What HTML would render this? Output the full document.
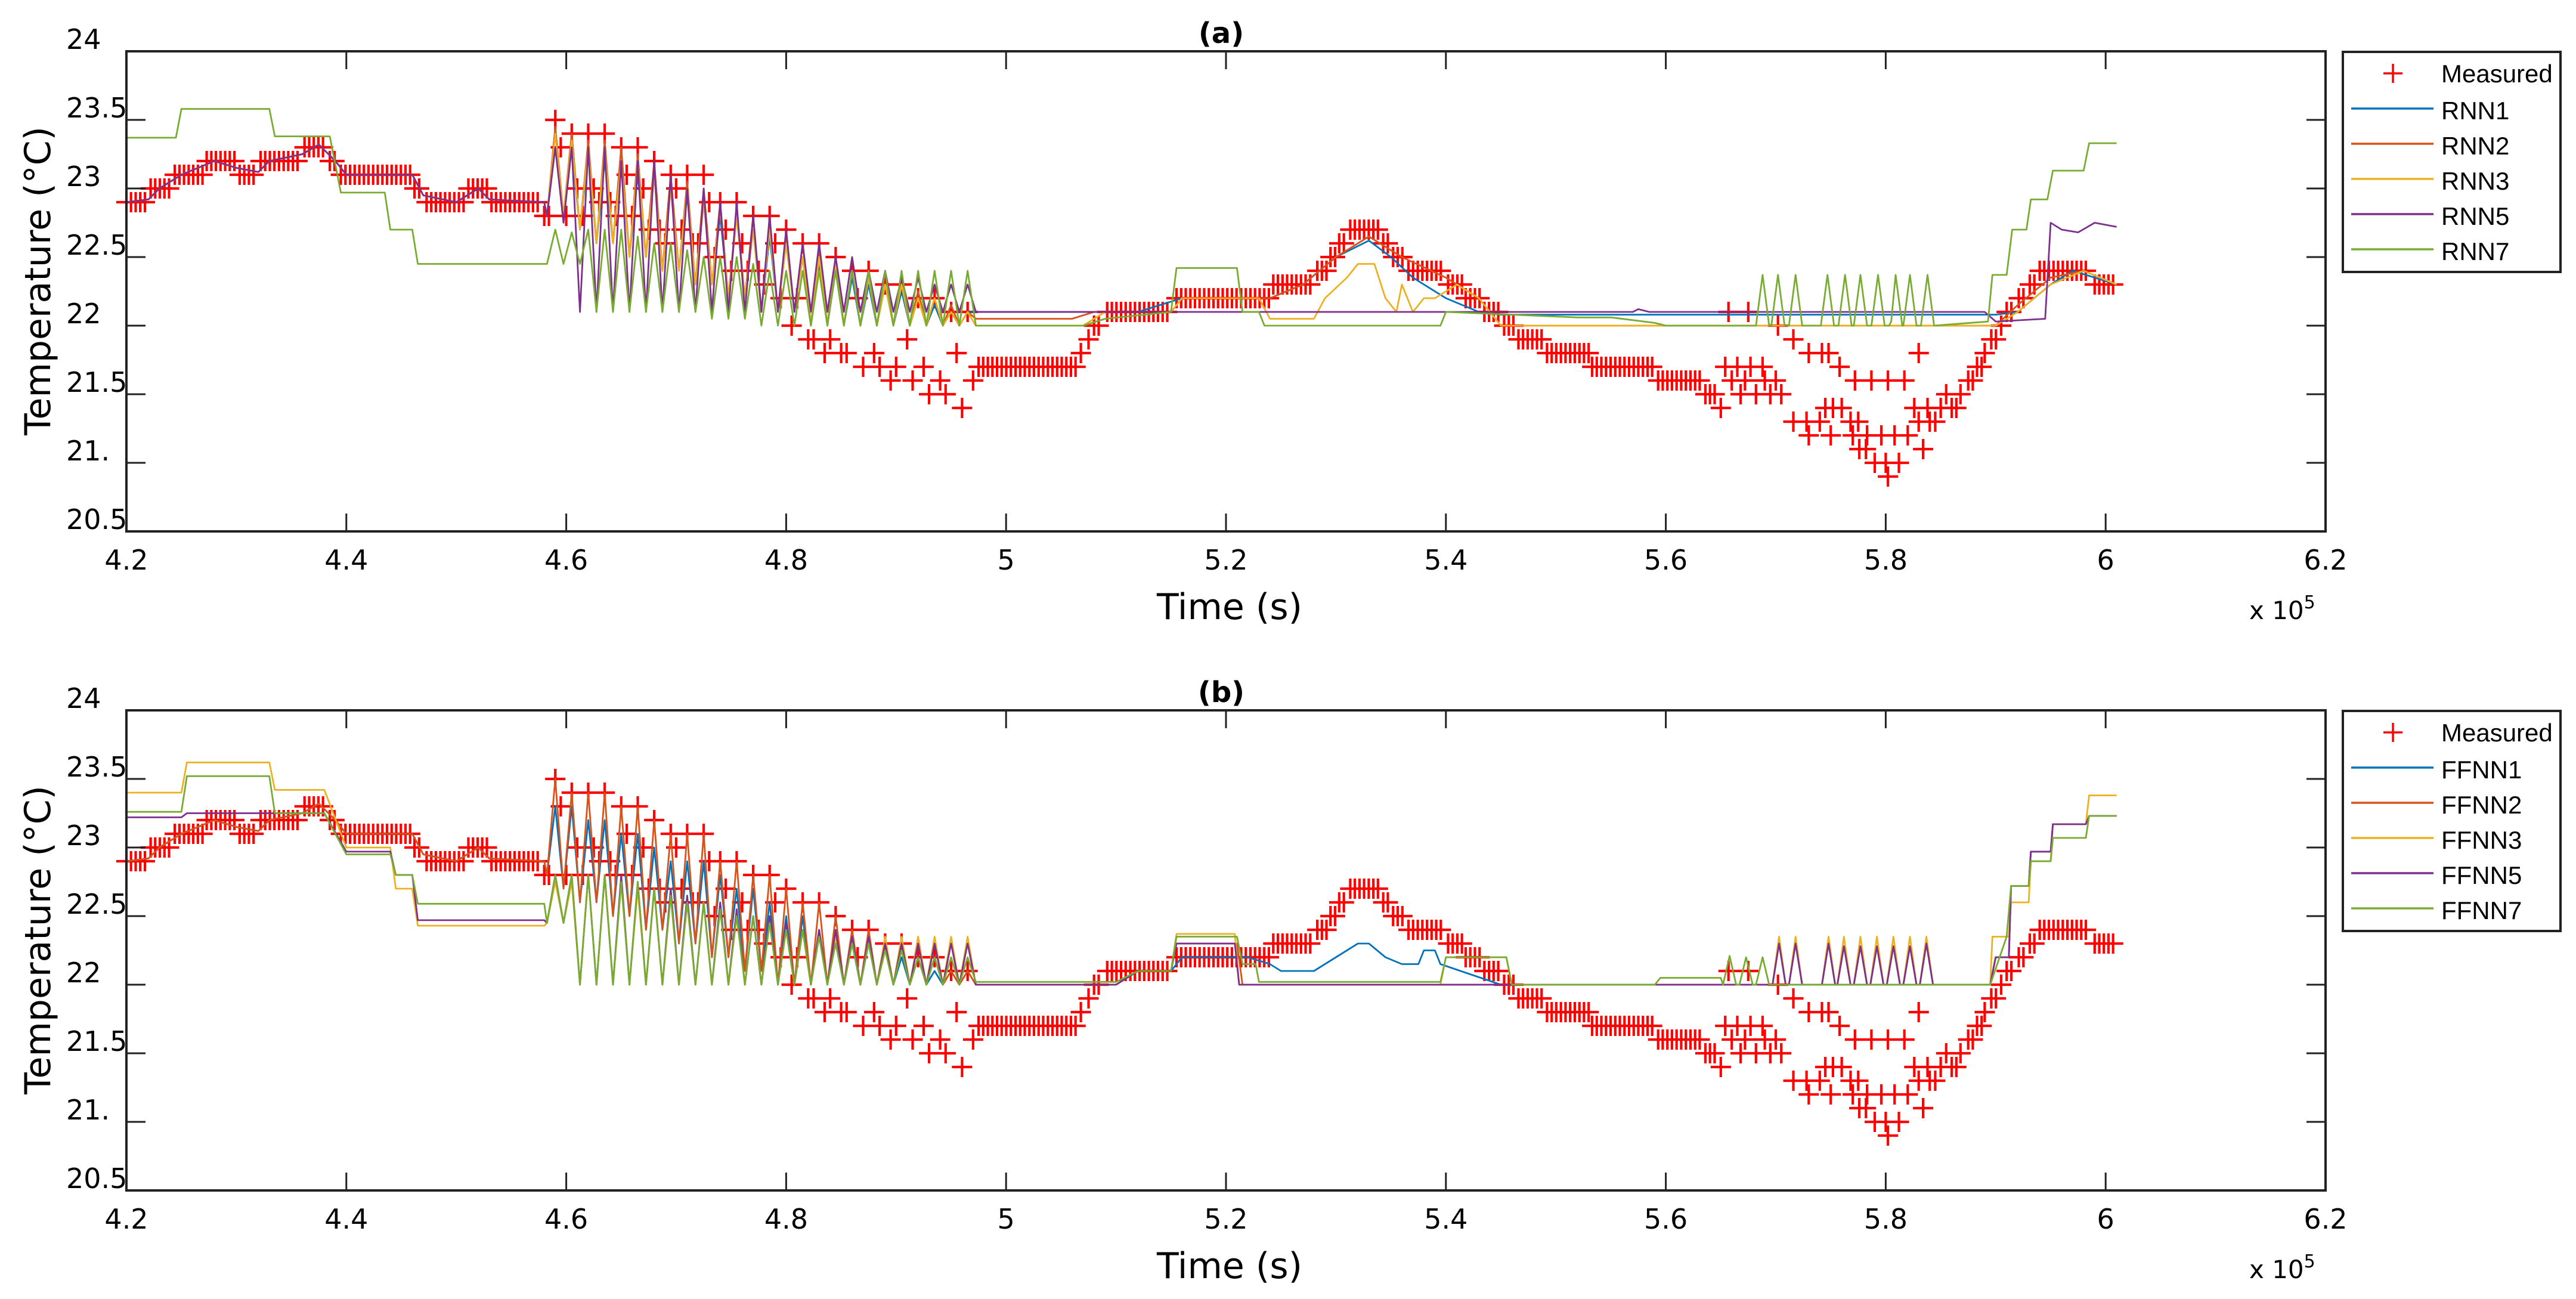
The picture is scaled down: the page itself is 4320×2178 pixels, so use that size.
<!DOCTYPE html>
<html><head><meta charset="utf-8"><style>
html,body{margin:0;padding:0;background:#fff;}
svg{display:block;}
text{font-family:"DejaVu Sans","Liberation Sans",sans-serif;fill:#000;}
.leg{font-family:"Liberation Sans",sans-serif;font-size:42px;}
</style></head><body>
<svg id="fig" width="4320" height="2178" viewBox="0 0 4320 2178" xmlns="http://www.w3.org/2000/svg"></svg>
<script>
// ---- data ----
const xTicks=[4.2,4.4,4.6,4.8,5,5.2,5.4,5.6,5.8,6,6.2];
const xTickLabels=["4.2","4.4","4.6","4.8","5","5.2","5.4","5.6","5.8","6","6.2"];
const yTicks=[24,23.5,23,22.5,22,21.5,21,20.5];
const yTickLabels=["24","23.5","23","22.5","22","21.5","21.","20.5"];
// measured: dense runs (start, end, value)
const runStart=[4.200,4.222,4.244,4.273,4.303,4.322,4.362,4.385,4.395,4.462,4.473,4.511,4.532,4.580,4.975,5.068,5.075,5.080,5.092,5.155,5.243,5.283,5.295,5.303,5.313,5.343,5.352,5.366,5.402,5.418,5.435,5.453,5.466,5.492,5.533,5.593,5.636,5.650,5.860,5.868,5.875,5.883,5.890,5.896,5.905,5.910,5.921,5.931,5.940,5.990];
const runEnd=[4.218,4.240,4.270,4.300,4.318,4.358,4.382,4.392,4.458,4.470,4.508,4.528,4.578,4.586,5.065,5.072,5.078,5.088,5.150,5.240,5.280,5.292,5.300,5.310,5.340,5.348,5.362,5.398,5.415,5.432,5.450,5.462,5.488,5.530,5.590,5.632,5.645,5.650,5.865,5.872,5.880,5.888,5.893,5.902,5.908,5.918,5.928,5.936,5.986,6.010];
const runValue=[22.9,23.0,23.1,23.2,23.1,23.2,23.3,23.2,23.1,23.0,22.9,23.0,22.9,22.8,21.7,21.8,21.9,22.0,22.1,22.2,22.3,22.4,22.5,22.6,22.7,22.6,22.5,22.4,22.3,22.2,22.1,22.0,21.9,21.8,21.7,21.6,21.5,21.4,21.4,21.5,21.6,21.7,21.8,21.9,22.0,22.1,22.2,22.3,22.4,22.3];
// measured: scattered points
const scatterT=[4.590,4.595,4.600,4.605,4.610,4.615,4.620,4.625,4.630,4.635,4.640,4.645,4.650,4.655,4.660,4.665,4.670,4.675,4.680,4.685,4.690,4.695,4.700,4.705,4.710,4.715,4.720,4.725,4.730,4.735,4.740,4.745,4.750,4.755,4.760,4.765,4.770,4.775,4.780,4.785,4.790,4.795,4.800,4.805,4.810,4.815,4.820,4.825,4.830,4.835,4.840,4.845,4.850,4.855,4.860,4.865,4.870,4.875,4.880,4.885,4.890,4.895,4.900,4.905,4.910,4.915,4.920,4.925,4.930,4.935,4.940,4.945,4.950,4.955,4.960,4.965,4.970,4.975,
5.654,5.665,5.677,5.688,5.660,5.672,5.690,5.700,5.668,5.682,5.695,5.705,5.745,5.752,5.760,5.716,5.728,5.740,5.768,5.775,5.730,5.750,5.770,5.783,5.796,5.808,5.820,5.776,5.782,5.834,5.790,5.800,5.812,5.802,5.657,5.675,5.702,5.716,5.730,5.742,5.748,5.758,5.772,5.787,5.802,5.817,5.830,5.830,5.840,5.845,5.826,5.838,5.850,5.855];
const scatterV=[23.5,23.3,22.8,23.4,23.0,22.8,23.4,23.0,22.9,23.4,22.9,22.8,23.3,23.1,22.8,23.3,23.0,22.7,23.2,22.7,22.6,23.1,23.0,22.7,23.1,22.6,22.6,23.1,22.9,22.5,22.9,22.7,22.4,22.9,22.6,22.4,22.8,22.4,22.3,22.8,22.6,22.2,22.7,22.0,22.2,22.6,21.9,21.9,22.6,21.8,21.9,22.5,21.8,21.8,22.4,22.2,21.7,22.4,21.8,21.7,22.3,21.6,21.7,22.3,21.9,21.6,22.2,21.7,21.5,22.2,21.6,21.5,22.1,21.8,21.4,22.1,21.6,21.7,
21.7,21.7,21.7,21.7,21.6,21.6,21.6,21.6,21.5,21.5,21.5,21.5,21.4,21.4,21.4,21.3,21.3,21.3,21.3,21.3,21.2,21.2,21.2,21.2,21.2,21.2,21.2,21.1,21.1,21.1,21.0,21.0,21.0,20.9,22.1,22.1,22.0,21.9,21.8,21.8,21.8,21.7,21.6,21.6,21.6,21.6,21.8,21.3,21.3,21.3,21.4,21.4,21.4,21.5];
// shared oscillation peak times
const oscPeakT=[4.590,4.605,4.620,4.635,4.650,4.665,4.680,4.695,4.710,4.725,4.740,4.755,4.770,4.785,4.800,4.815,4.830,4.845,4.860,4.875,4.890,4.905,4.920,4.935,4.950,4.965];
// common "following" pre-oscillation track
const followPre=[[4.20,22.9],[4.22,22.92],[4.23,23.0],[4.25,23.1],[4.28,23.2],[4.30,23.15],[4.32,23.12],[4.33,23.2],[4.36,23.25],[4.375,23.32],[4.39,23.2],[4.40,23.1],[4.46,23.1],[4.47,22.95],[4.50,22.9],[4.52,23.0],[4.53,22.92],[4.58,22.9]];
// ---- panel (a) RNN ----
const rnn1Peak=[23.3,23.3,23.25,23.2,23.2,23.1,23.1,23.0,22.95,22.9,22.8,22.8,22.7,22.65,22.6,22.5,22.45,22.4,22.35,22.3,22.3,22.25,22.2,22.15,22.1,22.1];
const rnn2Peak=[23.45,23.4,23.35,23.35,23.3,23.25,23.2,23.1,23.05,23.0,22.9,22.85,22.8,22.75,22.65,22.6,22.55,22.5,22.4,22.4,22.3,22.3,22.25,22.2,22.15,22.1];
const rnn2Trough=[22.8,22.8,22.7,22.6,22.6,22.5,22.5,22.4,22.4,22.3,22.3,22.2,22.2,22.1,22.1,22.1,22.0,22.0,22.0,22.0,22.0,22.0,22.0,22.0,22.0,22.0];
const rnn3Peak=[23.4,23.35,23.3,23.3,23.2,23.2,23.1,23.0,23.0,22.9,22.85,22.8,22.7,22.7,22.6,22.5,22.5,22.45,22.4,22.35,22.3,22.3,22.2,22.2,22.1,22.1];
const rnn5Peak=[23.3,23.3,23.3,23.3,23.2,23.2,23.2,23.1,23.0,23.0,22.9,22.9,22.8,22.8,22.7,22.6,22.6,22.5,22.5,22.4,22.4,22.35,22.35,22.3,22.3,22.3];
const rnn5Trough=[22.8,22.75,22.1,22.1,22.1,22.1,22.1,22.1,22.1,22.1,22.1,22.1,22.1,22.1,22.1,22.1,22.1,22.1,22.1,22.1,22.1,22.1,22.1,22.1,22.1,22.1];
const rnn7Peak=[22.7,22.68,22.7,22.7,22.7,22.65,22.6,22.6,22.55,22.5,22.5,22.5,22.45,22.4,22.4,22.4,22.4,22.4,22.4,22.4,22.4,22.4,22.4,22.4,22.4,22.4];
const rnn7Trough=[22.45,22.45,22.45,22.1,22.1,22.1,22.1,22.1,22.1,22.1,22.05,22.05,22.05,22.0,22.0,22.0,22.0,22.0,22.0,22.0,22.0,22.0,22.0,22.0,22.0,22.0];
const rnn7Pre=[[4.20,23.37],[4.245,23.37],[4.25,23.58],[4.33,23.58],[4.335,23.38],[4.385,23.38],[4.395,22.97],[4.435,22.97],[4.44,22.7],[4.46,22.7],[4.465,22.45],[4.58,22.45]];
const rnn1Post=[[4.975,22.1],[5.12,22.1],[5.16,22.2],[5.24,22.2],[5.27,22.3],[5.30,22.5],[5.33,22.62],[5.35,22.5],[5.37,22.35],[5.40,22.2],[5.43,22.1],[5.45,22.08],[5.90,22.08],[5.92,22.1],[5.95,22.3],[5.97,22.4],[6.01,22.3]];
const rnn2Post=[[4.975,22.05],[5.06,22.05],[5.08,22.1],[5.15,22.1],[5.16,22.2],[5.24,22.2],[5.27,22.3],[5.30,22.5],[5.33,22.65],[5.36,22.5],[5.40,22.35],[5.43,22.2],[5.45,22.0],[5.90,22.0],[5.92,22.15],[5.95,22.35],[5.98,22.4],[6.01,22.3]];
const rnn3Post=[[4.975,22.0],[5.07,22.0],[5.09,22.1],[5.15,22.1],[5.16,22.2],[5.23,22.2],[5.24,22.05],[5.28,22.05],[5.29,22.2],[5.31,22.35],[5.32,22.45],[5.335,22.45],[5.345,22.2],[5.355,22.1],[5.36,22.3],[5.37,22.1],[5.38,22.2],[5.39,22.2],[5.41,22.3],[5.43,22.2],[5.45,22.0],[5.90,22.0],[5.92,22.1],[5.95,22.3],[5.98,22.4],[6.01,22.3]];
const rnn5Post=[[4.975,22.1],[5.57,22.1],[5.575,22.12],[5.585,22.1],[5.89,22.1],[5.90,22.03],[5.945,22.05],[5.95,22.75],[5.96,22.7],[5.975,22.68],[5.99,22.75],[6.01,22.72]];
const rnn7Post=[[4.975,22.0],[5.07,22.0],[5.09,22.05],[5.15,22.1],[5.155,22.42],[5.21,22.42],[5.215,22.1],[5.23,22.1],[5.235,22.0],[5.395,22.0],[5.40,22.1],[5.46,22.08],[5.52,22.06],[5.55,22.06],[5.59,22.02],[5.60,22.0],[5.80,22.0],[5.805,22.03],[5.893,22.03],[5.897,22.37],[5.91,22.37],[5.915,22.7],[5.928,22.7],[5.932,22.92],[5.947,22.92],[5.952,23.13],[5.98,23.13],[5.985,23.33],[6.01,23.33]];
const rnn7SpikeT=[5.688,5.702,5.718,5.747,5.763,5.777,5.793,5.809,5.822,5.838];
const rnn7SpikeH=[22.37,22.37,22.37,22.37,22.37,22.37,22.37,22.37,22.37,22.37];
// ---- panel (b) FFNN ----
const ff2Peak=[23.5,23.4,23.4,23.4,23.3,23.3,23.2,23.1,23.1,23.1,22.9,22.9,22.8,22.8,22.7,22.6,22.6,22.5,22.4,22.4,22.3,22.3,22.2,22.2,22.1,22.1];
const ff2Trough=[22.8,22.7,22.6,22.6,22.5,22.5,22.4,22.4,22.3,22.3,22.2,22.2,22.1,22.1,22.0,22.0,22.0,22.0,22.0,22.0,22.0,22.0,22.0,22.0,22.0,22.0];
const ff1Peak=[23.3,23.3,23.2,23.2,23.1,23.1,23.0,22.9,22.9,22.9,22.8,22.7,22.7,22.6,22.5,22.5,22.4,22.4,22.3,22.3,22.3,22.2,22.2,22.1,22.1,22.1];
const ff3Peak=[22.75,22.75,22.8,22.8,22.75,22.7,22.7,22.65,22.6,22.6,22.55,22.5,22.5,22.45,22.4,22.4,22.4,22.35,22.35,22.35,22.35,22.35,22.35,22.35,22.35,22.35];
const ff5Peak=[22.8,22.8,22.8,22.8,22.8,22.75,22.7,22.7,22.65,22.6,22.6,22.55,22.5,22.5,22.45,22.4,22.4,22.4,22.35,22.35,22.3,22.3,22.3,22.3,22.3,22.3];
const ff7Peak=[22.8,22.8,22.8,22.8,22.75,22.75,22.7,22.65,22.6,22.6,22.55,22.5,22.5,22.45,22.4,22.4,22.35,22.3,22.3,22.3,22.25,22.25,22.2,22.2,22.2,22.2];
const ffLowTrough=[22.45,22.45,22.0,22.0,22.0,22.0,22.0,22.0,22.0,22.0,22.0,22.0,22.0,22.0,22.0,22.0,22.0,22.0,22.0,22.0,22.0,22.0,22.0,22.0,22.0,22.0];
const ff3Pre=[[4.20,23.4],[4.25,23.4],[4.255,23.62],[4.33,23.62],[4.335,23.42],[4.38,23.42],[4.40,23.0],[4.44,23.0],[4.445,22.7],[4.46,22.7],[4.465,22.43],[4.58,22.43]];
const ff5Pre=[[4.20,23.22],[4.25,23.22],[4.255,23.25],[4.38,23.25],[4.40,22.97],[4.44,22.97],[4.445,22.8],[4.46,22.8],[4.465,22.47],[4.58,22.47]];
const ff7Pre=[[4.20,23.26],[4.25,23.26],[4.255,23.52],[4.33,23.52],[4.335,23.25],[4.38,23.25],[4.40,22.95],[4.44,22.95],[4.445,22.8],[4.46,22.8],[4.465,22.59],[4.58,22.59]];
const ff1Post=[[4.975,22.0],[5.10,22.0],[5.12,22.1],[5.15,22.1],[5.16,22.2],[5.22,22.2],[5.24,22.15],[5.25,22.1],[5.28,22.1],[5.30,22.2],[5.32,22.3],[5.33,22.3],[5.345,22.2],[5.36,22.15],[5.375,22.15],[5.38,22.25],[5.39,22.25],[5.395,22.15],[5.45,22.0],[5.895,22.0],[5.90,22.2],[5.912,22.2],[5.914,22.72],[5.93,22.72],[5.932,22.97],[5.95,22.97],[5.952,23.17],[5.982,23.17],[5.985,23.23],[6.01,23.23]];
const ff2Post=[[4.975,22.0],[5.10,22.0],[5.12,22.1],[5.15,22.1],[5.155,22.3],[5.21,22.3],[5.215,22.0],[5.895,22.0],[5.90,22.2],[5.912,22.2],[5.914,22.72],[5.93,22.72],[5.932,22.97],[5.95,22.97],[5.952,23.17],[5.982,23.17],[5.985,23.23],[6.01,23.23]];
const ff3Post=[[4.975,22.0],[5.10,22.0],[5.12,22.1],[5.15,22.1],[5.155,22.37],[5.208,22.37],[5.212,22.0],[5.395,22.0],[5.40,22.2],[5.455,22.2],[5.46,22.0],[5.895,22.0],[5.897,22.35],[5.912,22.35],[5.914,22.6],[5.93,22.6],[5.932,22.9],[5.95,22.9],[5.952,23.17],[5.982,23.17],[5.985,23.38],[6.01,23.38]];
const ff5Post=[[4.975,22.0],[5.10,22.0],[5.12,22.1],[5.15,22.1],[5.155,22.3],[5.208,22.3],[5.212,22.0],[5.895,22.0],[5.90,22.2],[5.912,22.2],[5.914,22.72],[5.93,22.72],[5.932,22.97],[5.95,22.97],[5.952,23.17],[5.982,23.17],[5.985,23.23],[6.01,23.23]];
const ff7Post=[[4.975,22.02],[5.10,22.02],[5.12,22.1],[5.15,22.1],[5.155,22.35],[5.21,22.35],[5.215,22.15],[5.227,22.15],[5.23,22.02],[5.395,22.02],[5.40,22.2],[5.455,22.2],[5.46,22.0],[5.59,22.0],[5.595,22.05],[5.65,22.05],[5.895,22.0],[5.91,22.35],[5.914,22.72],[5.93,22.72],[5.932,22.9],[5.95,22.9],[5.952,23.07],[5.982,23.07],[5.985,23.23],[6.01,23.23]];
const ffSpikeT=[5.703,5.718,5.748,5.762,5.777,5.792,5.807,5.822,5.837];
const ff3SpikeH=[22.35,22.35,22.35,22.35,22.35,22.35,22.35,22.35,22.35];
const ff5SpikeH=[22.3,22.3,22.3,22.28,22.28,22.28,22.28,22.28,22.3];
const ff7SpikeT=[5.658,5.673,5.688];
const ff7SpikeH=[22.21,22.2,22.2];

// ---- rendering ----
const NS="http://www.w3.org/2000/svg";
const svg=document.getElementById('fig');
const X0=212,X1=3900,XMIN=4.2,XMAX=6.2,VMIN=20.5,VMAX=24,PH=805;
const COLORS={c1:"#0072BD",c2:"#D95319",c3:"#EDB120",c5:"#7E2F8E",c7:"#77AC30"};
function xs(t){return X0+(t-XMIN)/(XMAX-XMIN)*(X1-X0);}
function ys(v,top){return top+(VMAX-v)/(VMAX-VMIN)*PH;}
function mk(tag,attrs,parent){const e=document.createElementNS(NS,tag);for(const k in attrs)e.setAttribute(k,attrs[k]);(parent||svg).appendChild(e);return e;}
function buildSeries(pre,peak,trough,post,spT,spH,spBase){
  let pts=pre.slice();
  for(let i=0;i<oscPeakT.length;i++){pts.push([oscPeakT[i]-0.0075,trough[i]]);pts.push([oscPeakT[i],peak[i]]);}
  pts.push([oscPeakT[oscPeakT.length-1]+0.0075,post[0][1]]);
  pts=pts.concat(post);
  if(spT){for(let i=0;i<spT.length;i++){pts.push([spT[i]-0.006,spBase]);pts.push([spT[i],spH[i]]);pts.push([spT[i]+0.006,spBase]);}}
  pts.sort((a,b)=>a[0]-b[0]);
  return pts;
}
function drawPanel(top,title,names,series,panelId){
  const g=mk('g',{});
  
  
  const tt=mk('text',{x:2048,y:top-14,'text-anchor':'middle','font-size':48,'font-weight':'bold'},g);tt.textContent=title;
  
  const mg=mk('g',{stroke:'#ff0000','stroke-width':4.2},g);
  
  const mpts=[];
  for(let r=0;r<runStart.length;r++){for(let t=runStart[r];t<=runEnd[r]+1e-9;t+=0.0042)mpts.push([t,runValue[r]]);}
  for(let i=0;i<scatterT.length;i++)mpts.push([scatterT[i],scatterV[i]]);
  let d='';
  mpts.forEach(p=>{const x=xs(p[0]),y=ys(p[1],top);d+=`M${(x-17).toFixed(1)} ${y.toFixed(1)}h34M${x.toFixed(1)} ${(y-17).toFixed(1)}v34`;});
  const mp=mk('path',{d:d,fill:'none'},mg);
  
  series.forEach((s,i)=>{
    const pl=mk('polyline',{points:s.pts.map(p=>xs(p[0]).toFixed(1)+','+ys(p[1],top).toFixed(1)).join(' '),fill:'none',stroke:s.color,'stroke-width':2.8,'stroke-linejoin':'round'},g);
    
    
  });
  const bx=mk('rect',{x:X0,y:top,width:X1-X0,height:PH,fill:'none',stroke:'#222','stroke-width':4},g);
  
  xTicks.forEach((t,i)=>{
    const x=xs(t);
    mk('line',{x1:x,y1:top,x2:x,y2:top+30,stroke:'#222','stroke-width':3},g);
    mk('line',{x1:x,y1:top+PH,x2:x,y2:top+PH-30,stroke:'#222','stroke-width':3},g);
    const tl=mk('text',{x:x,y:top+PH+64,'text-anchor':'middle','font-size':46},g);tl.textContent=xTickLabels[i];
    
  });
  yTicks.forEach((v,i)=>{
    const y=ys(v,top);
    mk('line',{x1:X0,y1:y,x2:X0+32,y2:y,stroke:'#222','stroke-width':3},g);
    mk('line',{x1:X1,y1:y,x2:X1-32,y2:y,stroke:'#222','stroke-width':3},g);
    const tl=mk('text',{x:111,y:y-4,'font-size':46},g);tl.textContent=yTickLabels[i];
    
  });
  const yt=mk('text',{x:0,y:0,'text-anchor':'middle','font-size':60,transform:`translate(84,${top+385}) rotate(-90)`},g);yt.textContent='Temperature (°C)';
  
  const xt=mk('text',{x:2062,y:top+PH+147,'text-anchor':'middle','font-size':60},g);xt.textContent='Time (s)';
  
  const ex=mk('text',{x:3772,y:top+PH+147,'font-size':42},g);ex.textContent='x 10';
  
  const ex2=mk('tspan',{dy:-18,'font-size':30},ex);ex2.textContent='5';
  const lg=mk('g',{},g);
  
  mk('rect',{x:3929,y:top+1,width:365,height:369,fill:'#fff',stroke:'#222','stroke-width':4},lg);
  mk('path',{d:`M3997 ${top+37}h32M4013 ${top+21}v32`,stroke:'#ff0000','stroke-width':3.5},lg);
  const lt=mk('text',{x:4094,y:top+52,'class':'leg'},lg);lt.textContent='Measured';
  
  series.forEach((s,i)=>{
    const yy=top+96+i*59;
    mk('line',{x1:3943,y1:yy,x2:4081,y2:yy,stroke:s.color,'stroke-width':3.5},lg);
    const t=mk('text',{x:4094,y:yy+18,'class':'leg'},lg);t.textContent=names[i];
    
  });
}
const seriesA=[
  {color:COLORS.c1,pts:buildSeries(followPre,rnn1Peak,rnn2Trough,rnn1Post)},
  {color:COLORS.c2,pts:buildSeries(followPre,rnn2Peak,rnn2Trough,rnn2Post)},
  {color:COLORS.c3,pts:buildSeries(followPre,rnn3Peak,rnn2Trough,rnn3Post)},
  {color:COLORS.c5,pts:buildSeries(followPre,rnn5Peak,rnn5Trough,rnn5Post)},
  {color:COLORS.c7,pts:buildSeries(rnn7Pre,rnn7Peak,rnn7Trough,rnn7Post,rnn7SpikeT,rnn7SpikeH,22.0)}
];
const seriesB=[
  {color:COLORS.c1,pts:buildSeries(followPre,ff1Peak,ff2Trough,ff1Post)},
  {color:COLORS.c2,pts:buildSeries(followPre,ff2Peak,ff2Trough,ff2Post,ffSpikeT,ff5SpikeH,22.0)},
  {color:COLORS.c3,pts:buildSeries(ff3Pre,ff3Peak,ffLowTrough,ff3Post,ffSpikeT,ff3SpikeH,22.0)},
  {color:COLORS.c5,pts:buildSeries(ff5Pre,ff5Peak,ffLowTrough,ff5Post,ffSpikeT,ff5SpikeH,22.0)},
  {color:COLORS.c7,pts:buildSeries(ff7Pre,ff7Peak,ffLowTrough,ff7Post,ff7SpikeT,ff7SpikeH,22.0)}
];
drawPanel(86,'(a)',['RNN1','RNN2','RNN3','RNN5','RNN7'],seriesA,'panel-a-rnn');
drawPanel(1191,'(b)',['FFNN1','FFNN2','FFNN3','FFNN5','FFNN7'],seriesB,'panel-b-ffnn');
</script>
</body></html>
